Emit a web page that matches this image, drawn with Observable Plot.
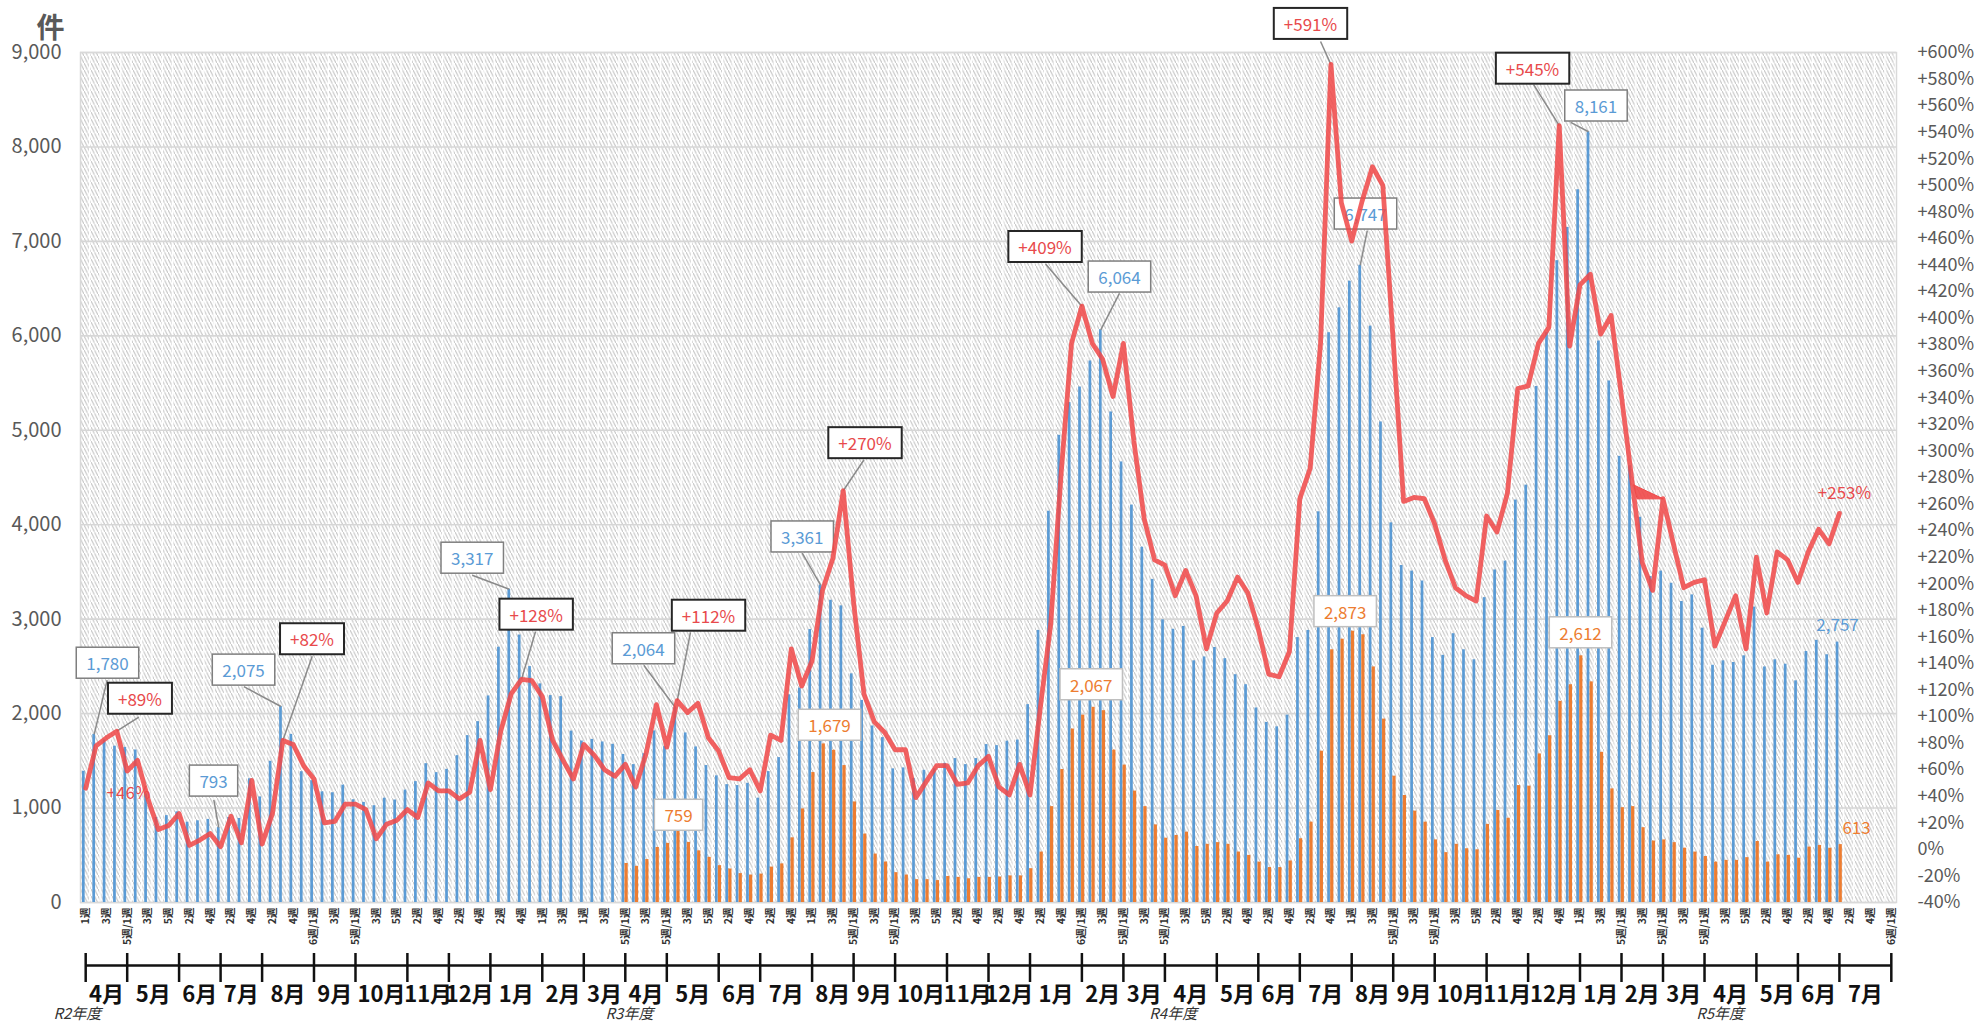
<!DOCTYPE html>
<html><head><meta charset="utf-8">
<script src="https://cdn.jsdelivr.net/npm/d3@7"></script>
<script src="https://cdn.jsdelivr.net/npm/@observablehq/plot@0.6"></script>
<style>html,body{margin:0;padding:0;background:#fff;overflow:hidden;}</style>
</head><body><div id="chart"></div>
<script>
// ---------- data (weekly slots, slot 0 = R2 4月1週) ----------
const blue = [
1390,1780,1720,1655,1642,1615,1150,900,920,960,
850,865,880,793,900,890,1310,1118,1495,2075,
1780,1385,1290,1172,1162,1243,1088,1060,1025,1105,
1085,1190,1280,1470,1375,1410,1555,1767,1915,2187,
2703,3317,2832,2498,2315,2191,2180,1815,1710,1727,
1700,1675,1567,1460,1575,1817,1650,2064,1795,1647,
1450,1341,1248,1238,1262,1105,1386,1534,2199,2270,
2890,3361,3200,3141,2421,2140,1869,1746,1415,1425,
1312,1400,1415,1474,1524,1460,1524,1672,1661,1708,
1720,2095,2881,4143,4947,5293,5458,5734,6064,5194,
4665,4208,3762,3421,2993,2893,2923,2559,2600,2700,
2582,2412,2306,2060,1907,1860,1984,2805,2881,4137,
6033,6297,6579,6747,6103,5088,4020,3568,3509,3404,
2805,2617,2846,2676,2570,3228,3521,3615,4261,4419,
5464,6033,6796,7148,7547,8161,5945,5522,4724,4624,
4079,3451,3509,3380,3187,3257,2905,2512,2559,2541,
2612,3128,2494,2570,2523,2347,2658,2776,2623,2757];
const orangeStart = 52;
const orange = [
413,383,455,583,626,759,636,547,478,390,
355,306,291,301,375,409,685,991,1376,1679,
1612,1450,1065,725,513,429,316,291,242,242,
232,276,266,251,266,266,270,282,282,358,
534,1015,1408,1837,1984,2067,2031,1614,1455,1180,
1015,822,681,710,745,593,616,634,616,534,
499,428,370,370,440,675,851,1602,2676,2788,
2873,2835,2494,1942,1338,1133,968,851,663,528,
616,569,558,827,974,892,1238,1232,1573,1766,
2130,2306,2612,2336,1590,1203,1004,1015,792,651,
663,634,575,534,487,428,446,446,475,646,
428,505,499,469,587,604,575,613];
const ratePct = [
46,78,84,89,59,67,38,15,18,27,
3,7,12,2,25,5,52,4,27,82,
79,63,53,20,21,34,34,30,8,19,
22,30,24,50,44,44,38,43,82,45,
89,117,128,127,115,82,67,53,79,71,
60,55,64,47,72,109,77,112,103,110,
84,74,54,53,60,44,86,82,151,123,
142,195,219,270,186,117,96,88,75,75,
39,51,63,63,49,50,63,70,47,41,
64,41,107,170,283,381,409,381,369,341,
381,308,249,218,214,191,210,191,151,178,
187,205,193,166,132,130,149,264,287,381,
591,487,458,488,514,500,383,262,265,264,
245,218,197,191,187,251,239,268,347,349,
381,393,545,379,425,433,388,402,341,278,
216,195,264,230,197,201,203,153,172,191,
151,220,178,224,218,201,224,241,230,253];
const slotCount = 175;
// tick labels
const leftTicks = [0,1000,2000,3000,4000,5000,6000,7000,8000,9000];
const rightTicks = [-40,-20,0,20,40,60,80,100,120,140,160,180,200,220,240,260,280,300,320,340,360,380,400,420,440,460,480,500,520,540,560,580,600];
const weekLabels = [ // every other slot: 0,2,4,...
"1週","3週","5週/1週","3週","5週","2週","4週","2週","4週","2週","4週","6週/1週","3週","5週/1週","3週","5週","2週","4週","2週","4週","2週","4週",
"1週","3週","1週","3週","5週/1週","3週","5週/1週","3週","5週","2週","4週","2週","4週","1週","3週","5週/1週","3週","5週/1週","3週","5週","2週","4週",
"2週","4週","2週","4週","6週/1週","3週","5週/1週","3週","5週/1週","3週","5週","2週","4週","2週","4週","2週","4週","1週","3週","5週/1週","3週","5週/1週",
"3週","5週","2週","4週","2週","4週","1週","3週","5週/1週","3週","5週/1週","3週","5週/1週","3週","5週","2週","4週","2週","4週","2週","4週","6週/1週"];
const monthStarts = [0,4,9,13,17,22,26,31,35,39,44,48,52,56,61,65,70,74,78,83,87,91,96,100,104,109,113,117,122,126,130,135,139,144,148,152,156,161,165,169,174];
const monthNames = ["4月","5月","6月","7月","8月","9月","10月","11月","12月","1月","2月","3月",
"4月","5月","6月","7月","8月","9月","10月","11月","12月","1月","2月","3月",
"4月","5月","6月","7月","8月","9月","10月","11月","12月","1月","2月","3月",
"4月","5月","6月","7月"];
const fyNames = ["R2年度","R3年度","R4年度","R5年度"];
const fySlots = [-0.3, 52.9, 105.3, 158.0];

// ---------- annotations (layout) ----------
const annoRed = [
 {t:"+89%",s:5.73,v:2141},{t:"+82%",s:22.31,v:2771},{t:"+128%",s:43.91,v:3031},{t:"+112%",s:60.52,v:3020},
 {t:"+270%",s:75.6,v:4847},{t:"+409%",s:92.95,v:6924},{t:"+591%",s:118.53,v:9286},{t:"+545%",s:139.93,v:8812}];
const annoBlue = [
 {t:"1,780",s:2.6,v:2517},{t:"793",s:12.82,v:1269},{t:"2,075",s:15.71,v:2444},{t:"3,317",s:37.75,v:3629},
 {t:"2,064",s:54.25,v:2670},{t:"3,361",s:69.55,v:3854},{t:"6,064",s:100.12,v:6606},{t:"6,747",s:123.83,v:7273},
 {t:"8,161",s:146.04,v:8417}];
const annoOrange = [
 {t:"759",s:57.63,v:907},{t:"1,679",s:72.18,v:1860},{t:"2,067",s:97.4,v:2289},{t:"2,873",s:121.87,v:3063},{t:"2,612",s:144.55,v:2839}];
const leaders = [
 {s:2.57,v:2355,n:1,to:"blue"},{s:5.62,v:1962,n:3,to:"red"},{s:12.85,v:1087,n:13,to:"blue"},
 {s:15.74,v:2285,n:19,to:"blue"},{s:22.33,v:2607,n:19,to:"red"},{s:37.75,v:3465,n:41,to:"blue"},
 {s:43.85,v:2870,n:42,to:"red"},{s:54.28,v:2512,n:57,to:"blue"},{s:58.78,v:2860,n:57,to:"red"},
 {s:69.55,v:3699,n:71,to:"blue"},{s:75.49,v:4685,n:73,to:"red"},{s:93.0,v:6761,n:96,to:"red"},
 {s:100.12,v:6449,n:98,to:"blue"},{s:119.5,v:9116,n:120,to:"red"},{s:124.0,v:7114,n:123,to:"blue"},
 {s:140.05,v:8657,n:142,to:"red"},{s:143.6,v:8260,n:145,to:"blue"}];
const flag = [{s:149.68,v:4421},{s:152.52,v:4274},{s:150.0,v:4274},{s:149.68,v:4421}];

// ---------- layout ----------
const W = 1987, H = 1021, ML = 80, MR = 91, MT = 52, MB = 119;
const plotH = H - MT - MB;
const below = px => -px * 9000 / plotH;
const pctToY = p => (p + 40) / 640 * 9000;
const fmtPct = p => (p > 0 ? "+" + p : "" + p) + "%";
const FONT = "'Noto Sans CJK JP','Noto Sans',sans-serif";

const slots = d3.range(slotCount);
const blueData = blue.map((v, i) => ({i, v}));
const orangeData = orange.map((v, k) => ({i: k + orangeStart, v}));
const rateData = ratePct.map((p, i) => ({i, y: pctToY(p)}));
const weekData = weekLabels.map((t, k) => ({slot: 2 * k, t}));
const monthData = monthNames.map((t, k) => ({t, c: (monthStarts[k] + monthStarts[k + 1]) / 2 + 0.5}));
const fyData = fyNames.map((t, k) => ({t, s: fySlots[k]}));
const leaderData = leaders.map(d => ({
  x1: d.s, y1: d.v,
  x2: d.to === "blue" ? d.n + 0.32 : d.n + 0.5,
  y2: d.to === "blue" ? blue[d.n] : pctToY(ratePct[d.n])
}));
const freeRed = [{t:"+253%", s:169.99, v:4328}];
const freeRed0 = [{t:"+46%", s:4.63, v:1150}];
const freeBlue = [{t:"2,757", s:169.32, v:2930}];
const freeOrange = [{t:"613", s:171.15, v:781}];

const chart = Plot.plot({
  width: W, height: H, marginLeft: ML, marginRight: MR, marginTop: MT, marginBottom: MB,
  style: {fontFamily: FONT, color: "#595959", background: "white", overflow: "visible"},
  x: {domain: [0, slotCount], axis: null},
  y: {domain: [0, 9000], axis: null},
  marks: [
    Plot.rect(slots, {x1: d => d, x2: d => d + 1, y1: 0, y2: 9000, fill: "#e4e4e4", insetRight: 1.4, ariaDescription: "hatch"}),
    Plot.ruleY(leftTicks, {stroke: "#d6d6d6", strokeWidth: 1.6}),
    Plot.frame({stroke: "#d9d9d9", strokeWidth: 1.5}),
    Plot.text(freeRed0, {x: "s", y: "v", text: "t", fontSize: 17, fill: "#e84a4c"}),
    Plot.rect(blueData, {x1: d => d.i + 0.19, x2: d => d.i + 0.45, y1: 0, y2: "v", fill: "#5b9bd5"}),
    Plot.rect(orangeData, {x1: d => d.i + 0.47, x2: d => d.i + 0.78, y1: 0, y2: "v", fill: "#ed7d31"}),
    Plot.link(leaderData, {x1: "x1", y1: "y1", x2: "x2", y2: "y2", stroke: "#8a8a8a", strokeWidth: 1.5}),
    Plot.text(annoBlue, {x: "s", y: "v", text: "t", fontSize: 17, fill: "#5b9bd5", ariaDescription: "anno-blue"}),
    Plot.text(annoOrange, {x: "s", y: "v", text: "t", fontSize: 17, fill: "#ed7d31", ariaDescription: "anno-orange"}),
    Plot.line(flag, {x: "s", y: "v", fill: "#f04848", stroke: "#f04848", strokeWidth: 1, fillOpacity: 0.9}),
    Plot.line(rateData, {x: d => d.i + 0.5, y: "y", stroke: "#f04848", strokeWidth: 4.8, strokeOpacity: 0.86, strokeLinejoin: "round"}),
    Plot.text(annoRed, {x: "s", y: "v", text: "t", fontSize: 17, fill: "#e84a4c", ariaDescription: "anno-red"}),
    Plot.text(freeRed, {x: "s", y: "v", text: "t", fontSize: 17, fill: "#e84a4c"}),
    Plot.text(freeBlue, {x: "s", y: "v", text: "t", fontSize: 17, fill: "#5b9bd5"}),
    Plot.text(freeOrange, {x: "s", y: "v", text: "t", fontSize: 17, fill: "#ed7d31"}),
    Plot.axisY(leftTicks, {anchor: "left", tickSize: 0, tickPadding: 19, tickFormat: d3.format(","), fontSize: 20, label: null}),
    Plot.axisY(rightTicks.map(pctToY), {anchor: "right", tickSize: 0, tickPadding: 21, tickFormat: y => fmtPct(Math.round(y * 640 / 9000 - 40)), fontSize: 18, label: null}),
    Plot.text(weekData, {x: d => d.slot + 0.5, y: 0, text: "t", rotate: -90, textAnchor: "end", dy: 5, fontSize: 10.5, fontWeight: "bold", fill: "#333"}),
    Plot.ruleY([0], {x1: 0.5, x2: slotCount - 0.5, dy: 63, stroke: "#111", strokeWidth: 2.5}),
    Plot.ruleX(monthStarts, {x: d => d + 0.5, y1: below(51), y2: below(80), stroke: "#111", strokeWidth: 2.5}),
    Plot.text(monthData, {x: "c", y: 0, dy: 92, text: "t", fontSize: 22, fontWeight: "bold", fill: "#111"}),
    Plot.text(fyData, {x: "s", y: 0, dy: 112, text: "t", fontSize: 15, fontStyle: "italic", fill: "#333"}),
    Plot.text(["件"], {frameAnchor: "top-left", text: d => d, dx: -44, dy: -34, fontSize: 28, fontWeight: "bold", fill: "#595959"})
  ]
});
document.getElementById("chart").append(chart);

const svg = d3.select(chart);
svg.insert("defs", ":first-child").html(
  '<pattern id="hatch" patternUnits="userSpaceOnUse" width="3.5" height="7">' +
  '<rect width="3.5" height="7" fill="#ffffff"/>' +
  '<path d="M-1.75,-3.5L1.75,3.5M0,0L3.5,7M1.75,3.5L5.25,10.5" stroke="#c6c6c6" stroke-width="1.1"/>' +
  '</pattern>');
svg.selectAll('g[aria-description="hatch"]').attr("fill", "url(#hatch)");
svg.selectAll('g[aria-description="hatch"] rect').attr("fill", "url(#hatch)");

function boxify(label, stroke, sw) {
  svg.selectAll(`g[aria-description="${label}"] text`).each(function() {
    const b = this.getBBox();
    const px = 10, py = 3;
    const r = document.createElementNS("http://www.w3.org/2000/svg", "rect");
    const tr = this.getAttribute("transform");
    if (tr) r.setAttribute("transform", tr);
    r.setAttribute("x", b.x - px); r.setAttribute("y", b.y - py);
    r.setAttribute("width", b.width + 2 * px); r.setAttribute("height", b.height + 2 * py);
    r.setAttribute("fill", "white"); r.setAttribute("stroke", stroke); r.setAttribute("stroke-width", sw);
    this.parentNode.insertBefore(r, this);
  });
}
boxify("anno-red", "#262626", 2);
boxify("anno-blue", "#7f7f7f", 1.5);
boxify("anno-orange", "#bfbfbf", 1.5);
</script>
</body></html>
